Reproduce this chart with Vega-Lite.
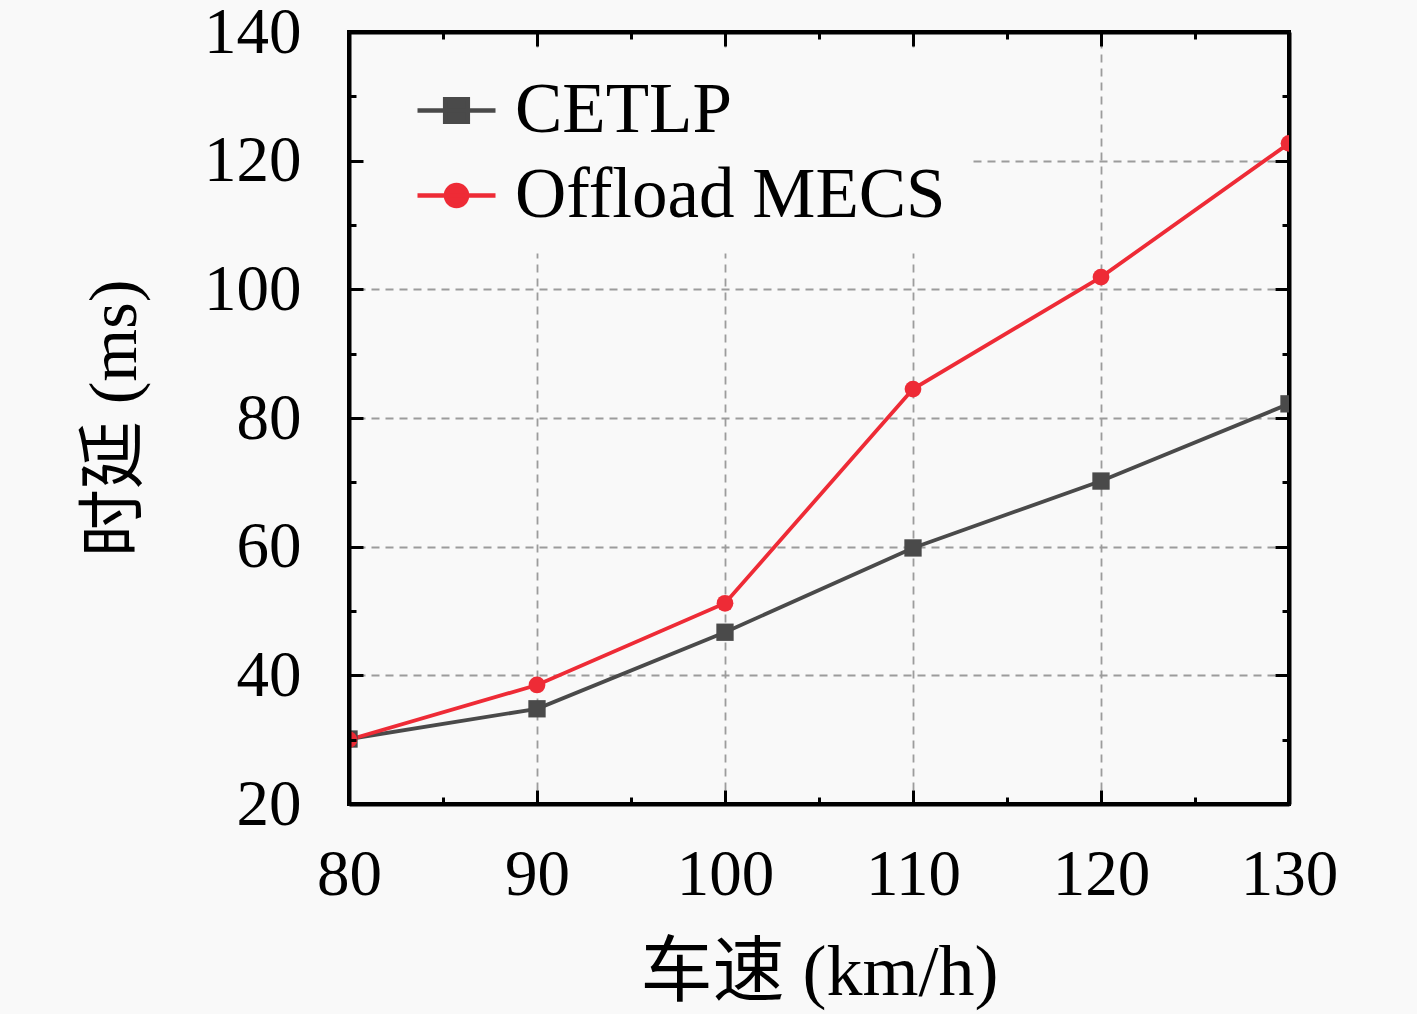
{
  "$schema": "https://vega.github.io/schema/vega-lite/v6.json",
  "width": 940,
  "height": 772,
  "autosize": {"type": "none"},
  "padding": {"left": 349, "top": 32, "right": 128, "bottom": 210},
  "background": "#f9f9f9",
  "config": {
    "view": {"stroke": "#000000", "strokeWidth": 4, "fill": "#f9f9f9"},
    "font": "Liberation Serif, Noto Sans CJK SC"
  },
  "data": {
    "values": [
      {"method": "CETLP", "speed": 80, "delay": 30.1},
      {"method": "CETLP", "speed": 90, "delay": 34.8},
      {"method": "CETLP", "speed": 100, "delay": 46.7},
      {"method": "CETLP", "speed": 110, "delay": 59.8},
      {"method": "CETLP", "speed": 120, "delay": 70.2},
      {"method": "CETLP", "speed": 130, "delay": 82.2},
      {"method": "Offload MECS", "speed": 80, "delay": 30.0},
      {"method": "Offload MECS", "speed": 90, "delay": 38.5},
      {"method": "Offload MECS", "speed": 100, "delay": 51.2},
      {"method": "Offload MECS", "speed": 110, "delay": 84.5},
      {"method": "Offload MECS", "speed": 120, "delay": 101.9},
      {"method": "Offload MECS", "speed": 130, "delay": 122.7}
    ]
  },
  "layer": [
    {
      "mark": {"type": "line", "strokeWidth": 3.8, "clip": true},
      "encoding": {
        "x": {
          "field": "speed", "type": "quantitative",
          "scale": {"domain": [80, 130], "nice": false, "zero": false},
          "axis": {
            "orient": "bottom",
            "values": [80, 85, 90, 95, 100, 105, 110, 115, 120, 125, 130],
            "title": "车速 (km/h)",
            "labelExpr": "datum.value % 10 == 0 ? datum.label : ''",
            "labelFont": "Liberation Serif",
            "labelFontSize": 65,
            "labelColor": "#000000",
            "labelPadding": 53,
            "labelFlush": false,
            "labelBound": false,
            "labelOverlap": false,
            "tickColor": "#000000",
            "tickWidth": 3,
            "tickSize": {"condition": {"test": "datum.value % 10 != 0", "value": -7}, "value": -14},
            "domain": true,
            "domainColor": "#000000",
            "domainWidth": 4,
            "grid": false,
            "titleFont": "Liberation Serif, Noto Sans CJK SC",
            "titleFontSize": 72,
            "titleFontWeight": "normal",
            "titleColor": "#000000",
            "titlePadding": 23,
            "zindex": 2
          }
        },
        "y": {
          "field": "delay", "type": "quantitative",
          "scale": {"domain": [20, 140], "nice": false, "zero": false},
          "axis": {
            "orient": "left",
            "values": [20, 30, 40, 50, 60, 70, 80, 90, 100, 110, 120, 130, 140],
            "title": "时延 (ms)",
            "labelExpr": "datum.value % 20 == 0 ? datum.label : ''",
            "labelFont": "Liberation Serif",
            "labelFontSize": 65,
            "labelColor": "#000000",
            "labelPadding": 62,
            "labelFlush": false,
            "labelBound": false,
            "labelOverlap": false,
            "tickColor": "#000000",
            "tickWidth": 3,
            "tickSize": {"condition": {"test": "datum.value % 20 != 0", "value": -7}, "value": -14},
            "domain": true,
            "domainColor": "#000000",
            "domainWidth": 4,
            "grid": false,
            "titleFont": "Liberation Serif, Noto Sans CJK SC",
            "titleFontSize": 68,
            "titleFontWeight": "normal",
            "titleColor": "#000000",
            "titlePadding": 54,
            "zindex": 2
          }
        },
        "color": {
          "field": "method", "type": "nominal",
          "scale": {"domain": ["CETLP", "Offload MECS"], "range": ["#4a4a4a", "#ee2b36"]},
          "legend": {
            "orient": "none",
            "legendX": 0,
            "legendY": 15,
            "title": null,
            "padding": 22,
            "fillColor": "#f9f9f9",
            "strokeColor": "transparent",
            "symbolSize": 6084,
            "symbolStrokeWidth": 4,
            "symbolOpacity": 1,
            "symbolOffset": 44,
            "labelFont": "Liberation Serif",
            "labelFontSize": 71,
            "labelColor": "#000000",
            "labelOffset": 17,
            "labelLimit": 700,
            "rowPadding": 8,
            "zindex": 1,
            "encode": {
              "symbols": {
                "update": {
                  "shape": {"signal": "datum.value === 'CETLP' ? 'M-1,0H1M-0.29,-0.29H0.29V0.29H-0.29Z' : 'M-1,0H1M0.27,0A0.27,0.27,0,1,1,-0.27,0A0.27,0.27,0,1,1,0.27,0Z'"},
                  "fill": {"signal": "datum.value === 'CETLP' ? '#4a4a4a' : '#ee2b36'"},
                  "stroke": {"signal": "datum.value === 'CETLP' ? '#4a4a4a' : '#ee2b36'"},
                  "strokeWidth": {"value": 4.5},
                  "opacity": {"value": 1}
                }
              }
            }
          }
        }
      }
    },
    {
      "transform": [{"filter": "datum.method === 'CETLP'"}],
      "mark": {"type": "point", "shape": "square", "filled": true, "opacity": 1, "size": 300, "clip": true},
      "encoding": {
        "x": {
          "field": "speed", "type": "quantitative",
          "axis": {
            "orient": "top",
            "values": [80, 85, 90, 95, 100, 105, 110, 115, 120, 125, 130],
            "labels": false,
            "title": null,
            "tickColor": "#000000",
            "tickWidth": 3,
            "tickSize": {"condition": {"test": "datum.value % 10 != 0", "value": -7}, "value": -14},
            "domain": true,
            "domainColor": "#000000",
            "domainWidth": 4,
            "grid": true,
            "gridColor": "#9c9c9c",
            "gridDash": [8, 6],
            "gridWidth": 1.8,
            "gridOpacity": {"condition": {"test": "datum.value % 10 != 0", "value": 0}, "value": 1},
            "zindex": 0
          }
        },
        "y": {
          "field": "delay", "type": "quantitative",
          "axis": {
            "orient": "right",
            "values": [20, 30, 40, 50, 60, 70, 80, 90, 100, 110, 120, 130, 140],
            "labels": false,
            "title": null,
            "tickColor": "#000000",
            "tickWidth": 3,
            "tickSize": {"condition": {"test": "datum.value % 20 != 0", "value": -7}, "value": -14},
            "domain": true,
            "domainColor": "#000000",
            "domainWidth": 4,
            "grid": true,
            "gridColor": "#9c9c9c",
            "gridDash": [8, 6],
            "gridWidth": 1.8,
            "gridOpacity": {"condition": {"test": "datum.value % 20 != 0", "value": 0}, "value": 1},
            "zindex": 0
          }
        },
        "color": {"field": "method", "type": "nominal", "legend": null}
      }
    },
    {
      "transform": [{"filter": "datum.method === 'Offload MECS'"}],
      "mark": {"type": "point", "shape": "circle", "filled": true, "opacity": 1, "size": 280, "clip": true},
      "encoding": {
        "x": {"field": "speed", "type": "quantitative", "axis": null},
        "y": {"field": "delay", "type": "quantitative", "axis": null},
        "color": {"field": "method", "type": "nominal", "legend": null}
      }
    }
  ],
  "resolve": {"axis": {"x": "independent", "y": "independent"}}
}
